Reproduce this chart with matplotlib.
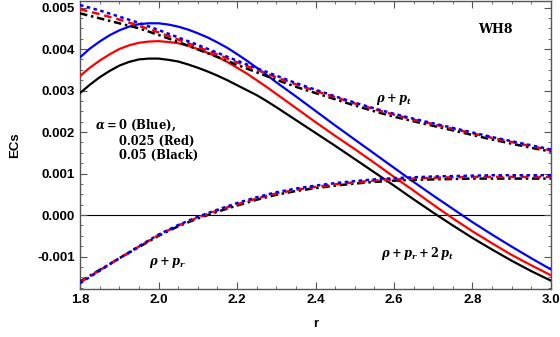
import matplotlib
matplotlib.use("Agg")
import matplotlib.pyplot as plt
from matplotlib.ticker import MultipleLocator, FormatStrFormatter

plt.rcParams['mathtext.fontset'] = 'custom'
plt.rcParams['mathtext.it'] = 'DejaVu Serif:italic:bold'
plt.rcParams['mathtext.rm'] = 'DejaVu Serif:bold'
plt.rcParams['mathtext.bf'] = 'DejaVu Serif:bold'

r = [1.80, 1.85, 1.90, 1.95, 2.00, 2.05, 2.10, 2.15, 2.20, 2.25, 2.30, 2.35, 2.40,
     2.45, 2.50, 2.55, 2.60, 2.65, 2.70, 2.75, 2.80, 2.85, 2.90, 2.95, 3.00]

# rho + p_t
rpt_blue = [0.00506, 0.00493, 0.00478, 0.00463, 0.00446, 0.00428, 0.00410, 0.00391, 0.00372,
            0.00354, 0.00336, 0.00318, 0.00302, 0.00286, 0.00271, 0.00257, 0.00244, 0.00232,
            0.00221, 0.00210, 0.00199, 0.00188, 0.00178, 0.00168, 0.00158]
rpt_red = [0.00496, 0.00484, 0.00471, 0.00456, 0.00440, 0.00423, 0.00405, 0.00387, 0.00368,
           0.00350, 0.00332, 0.00315, 0.00299, 0.00284, 0.00269, 0.00255, 0.00242, 0.00230,
           0.00219, 0.00208, 0.00197, 0.00186, 0.00176, 0.00166, 0.00156]
rpt_black = [0.00486, 0.00474, 0.00462, 0.00450, 0.00434, 0.00417, 0.00399, 0.00381, 0.00362,
             0.00344, 0.00326, 0.00309, 0.00294, 0.00279, 0.00264, 0.00250, 0.00237, 0.00226,
             0.00215, 0.00204, 0.00193, 0.00182, 0.00172, 0.00162, 0.00153]

# rho + p_r
rpr_blue = [-0.00164, -0.00134, -0.00104, -0.00075, -0.00047, -0.00024, -0.00004, 0.00013,
            0.00029, 0.00043, 0.00055, 0.00064, 0.00071, 0.00077, 0.00082, 0.00086, 0.00089,
            0.00091, 0.00093, 0.00094, 0.00095, 0.00096, 0.00096, 0.00096, 0.00096]
rpr_red = [-0.00162, -0.00133, -0.00104, -0.00076, -0.00048, -0.00025, -0.00006, 0.00011,
           0.00026, 0.00040, 0.00052, 0.00061, 0.00068, 0.00074, 0.00079, 0.00083, 0.00086,
           0.00088, 0.00090, 0.00091, 0.00092, 0.00092, 0.00092, 0.00092, 0.00092]
rpr_black = [-0.00160, -0.00132, -0.00104, -0.00077, -0.00050, -0.00027, -0.00008, 0.00008,
             0.00023, 0.00037, 0.00049, 0.00058, 0.00065, 0.00071, 0.00076, 0.00080, 0.00083,
             0.00085, 0.00086, 0.00087, 0.00088, 0.00088, 0.00088, 0.00088, 0.00088]

# rho + p_r + 2 p_t (finer steps around the maximum)
r_sec = [1.800, 1.825, 1.850, 1.875, 1.900, 1.925, 1.950, 1.975, 2.000, 2.025, 2.050, 2.075,
         2.100, 2.125, 2.150, 2.175, 2.200, 2.225, 2.250, 2.275, 2.300, 2.35, 2.40, 2.45,
         2.50, 2.55, 2.60, 2.65, 2.70, 2.75, 2.80, 2.85, 2.90, 2.95, 3.00]
sec_blue = [0.00380, 0.00401, 0.00418, 0.00433, 0.00445, 0.00454, 0.00460, 0.00462, 0.00462,
            0.00459, 0.00454, 0.00447, 0.00438, 0.00428, 0.00416, 0.00403, 0.00388, 0.00372,
            0.00355, 0.00338, 0.00320, 0.00286, 0.00251, 0.00216, 0.00182, 0.00148, 0.00114,
            0.00080, 0.00047, 0.00015, -0.00017, -0.00047, -0.00076, -0.00104, -0.00131]
sec_red = [0.00335, 0.00355, 0.00372, 0.00387, 0.00400, 0.00409, 0.00415, 0.00418, 0.00419,
           0.00417, 0.00414, 0.00408, 0.00400, 0.00391, 0.00381, 0.00369, 0.00355, 0.00341,
           0.00325, 0.00309, 0.00292, 0.00258, 0.00224, 0.00191, 0.00159, 0.00126, 0.00092,
           0.00059, 0.00025, -0.00008, -0.00039, -0.00068, -0.00096, -0.00121, -0.00145]
sec_black = [0.00294, 0.00314, 0.00332, 0.00347, 0.00360, 0.00369, 0.00375, 0.00377, 0.00377,
             0.00374, 0.00370, 0.00363, 0.00355, 0.00346, 0.00336, 0.00325, 0.00313, 0.00301,
             0.00289, 0.00275, 0.00260, 0.00229, 0.00198, 0.00167, 0.00135, 0.00103, 0.00071,
             0.00038, 0.00006, -0.00025, -0.00055, -0.00083, -0.00110, -0.00135, -0.00158]

fig = plt.figure(figsize=(5.6, 3.37), dpi=100)
ax = fig.add_axes([0.1429, 0.1424, 0.841, 0.855])

lw = 1.6
ax.axhline(0, color='black', lw=0.8, zorder=1)

ax.plot(r_sec, sec_black, color='black', lw=lw, zorder=3)
ax.plot(r_sec, sec_red, color='red', lw=lw, zorder=3)
ax.plot(r_sec, sec_blue, color='blue', lw=lw, zorder=3)

for rpt, rpr, col, ls in [(rpt_black, rpr_black, 'black', (0, (3, 1.5, 1, 1.5))),
                          (rpt_red, rpr_red, 'red', (0, (3, 2))),
                          (rpt_blue, rpr_blue, 'blue', (0, (1.4, 1.4)))]:
    ax.plot(r, rpt, color=col, lw=lw + 0.2, ls=ls, zorder=4)
    ax.plot(r, rpr, color=col, lw=lw + 0.2, ls=ls, zorder=4)

ax.set_xlim(1.8, 3.0)
ax.set_ylim(-0.00178, 0.00516)

ax.xaxis.set_major_locator(MultipleLocator(0.2))
ax.xaxis.set_minor_locator(MultipleLocator(0.05))
ax.yaxis.set_major_locator(MultipleLocator(0.001))
ax.yaxis.set_minor_locator(MultipleLocator(0.00025))
ax.xaxis.set_major_formatter(FormatStrFormatter('%.1f'))
ax.yaxis.set_major_formatter(FormatStrFormatter('%.3f'))
ax.tick_params(which='both', direction='in', top=True, right=True, color='#555555')
ax.tick_params(which='major', length=5, width=0.8)
ax.tick_params(which='minor', length=2.5, width=0.6)
for lab in ax.get_xticklabels() + ax.get_yticklabels():
    lab.set_fontfamily('Liberation Sans')
    lab.set_fontweight('bold')
    lab.set_fontsize(9.5)
for s in ax.spines.values():
    s.set_color('#555555')
    s.set_linewidth(1.0)

ax.set_xlabel('r', fontfamily='Liberation Sans', fontweight='bold', fontsize=9.5)
ax.set_ylabel('ECs', fontfamily='Liberation Sans', fontweight='bold', fontsize=9.5)
ax.yaxis.set_label_coords(-0.125, 0.5)
ax.xaxis.set_label_coords(0.5, -0.1)

serif = dict(fontfamily='DejaVu Serif', fontweight='bold', fontsize=8.3)
ax.text(2.857, 0.00448, 'WH8', ha='center', va='center',
        fontfamily='DejaVu Serif', fontweight='bold', fontsize=9)
ax.text(2.60, 0.00278, r'$\rho+p_t$', ha='center', va='center', **serif)
ax.text(2.024, -0.00113, r'$\rho+p_r$', ha='center', va='center', **serif)
ax.text(2.661, -0.00092, r'$\rho+p_r+2\,p_t$', ha='center', va='center', **serif)
ax.text(1.838, 0.00217, r'$\alpha=0$ (Blue),', ha='left', va='center', **serif)
ax.text(1.899, 0.00178, '0.025 (Red)', ha='left', va='center', **serif)
ax.text(1.899, 0.00143, '0.05 (Black)', ha='left', va='center', **serif)

fig.savefig('out.png', dpi=100)
